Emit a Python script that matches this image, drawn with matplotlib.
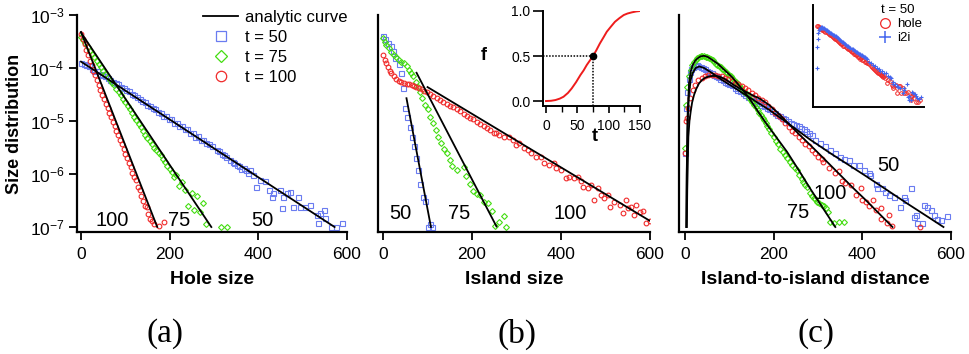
import numpy as np
import matplotlib
matplotlib.use('Agg')
import matplotlib.pyplot as plt
from matplotlib.ticker import NullLocator, FixedLocator

plt.rcParams['font.family'] = ['Liberation Sans', 'DejaVu Sans']
plt.rcParams['mathtext.fontset'] = 'custom'
plt.rcParams['mathtext.rm'] = 'Liberation Sans'
plt.rcParams['mathtext.it'] = 'Liberation Sans'
plt.rcParams['mathtext.default'] = 'regular'

# ---- data: (x, log10 of size distribution) ----
# (a) hole size
hole50 = [(0, -3.90), (6, -3.92), (12, -3.95), (18, -3.97), (24, -4.01), (30, -4.05), (36, -4.06),
          (42, -4.12), (48, -4.13), (54, -4.16), (60, -4.19), (66, -4.22), (72, -4.26), (78, -4.28),
          (84, -4.31), (90, -4.36), (96, -4.38), (102, -4.42), (108, -4.44), (114, -4.49), (120, -4.50),
          (126, -4.55), (132, -4.58), (138, -4.62), (144, -4.64), (150, -4.70), (156, -4.71), (162, -4.76),
          (168, -4.78), (174, -4.83), (180, -4.84), (186, -4.90), (192, -4.91), (198, -4.97), (204, -4.97),
          (210, -5.03), (216, -5.04), (222, -5.10), (228, -5.09), (234, -5.16), (240, -5.15), (246, -5.23),
          (252, -5.22), (258, -5.30), (264, -5.29), (270, -5.36), (276, -5.35), (282, -5.42), (288, -5.43),
          (296, -5.47), (307, -5.55), (312, -5.57), (317, -5.62), (322, -5.64), (327, -5.68), (337, -5.74),
          (342, -5.77), (346, -5.80), (352, -5.83), (357, -5.85), (362, -5.90), (367, -5.89), (372, -5.93),
          (377, -5.98), (382, -5.92), (389, -6.02), (395, -6.24), (404, -6.11), (415, -6.14), (425, -6.30),
          (430, -6.43), (434, -6.36), (449, -6.30), (454, -6.65), (456, -6.43), (464, -6.36), (472, -6.33),
          (479, -6.62), (490, -6.43), (494, -6.62), (505, -6.62), (516, -6.58), (532, -6.77), (535, -6.92),
          (539, -6.74), (547, -6.68), (551, -6.83), (565, -7.0), (576, -7.0), (588, -6.92)]
hole75 = [(0, -3.42), (5, -3.47), (10, -3.53), (15, -3.60), (20, -3.67), (25, -3.74), (30, -3.80),
          (35, -3.86), (40, -3.93), (45, -3.99), (50, -4.05), (55, -4.11), (60, -4.17), (65, -4.22),
          (70, -4.28), (75, -4.33), (80, -4.39), (85, -4.45), (90, -4.51), (95, -4.58), (100, -4.65),
          (105, -4.71), (110, -4.77), (115, -4.84), (120, -4.92), (125, -4.98), (130, -5.05), (135, -5.11),
          (140, -5.19), (145, -5.26), (150, -5.32), (155, -5.38), (160, -5.44), (165, -5.50), (170, -5.55),
          (175, -5.60), (180, -5.65), (185, -5.72), (190, -5.78), (195, -5.85), (200, -5.90), (205, -5.96),
          (210, -6.05), (215, -6.02), (220, -6.22), (228, -6.15), (235, -6.30), (242, -6.60), (250, -6.35),
          (255, -6.68), (262, -6.42), (268, -6.72), (275, -6.55), (282, -6.95), (315, -7.0), (330, -7.0)]
hole100 = [(0, -3.35), (4, -3.45), (8, -3.55), (12, -3.66), (16, -3.76), (20, -3.86), (24, -3.95),
           (28, -4.05), (32, -4.14), (36, -4.23), (40, -4.32), (44, -4.41), (48, -4.50), (52, -4.59),
           (56, -4.67), (60, -4.76), (64, -4.85), (68, -4.93), (72, -5.02), (76, -5.10), (80, -5.19),
           (84, -5.27), (88, -5.36), (92, -5.44), (96, -5.53), (100, -5.62), (104, -5.70), (108, -5.80),
           (112, -5.86), (116, -5.98), (120, -6.05), (124, -6.12), (128, -6.25), (132, -6.30), (136, -6.42),
           (140, -6.50), (144, -6.60), (148, -6.62), (152, -6.75), (156, -6.85), (160, -6.88), (164, -6.95),
           (176, -6.99), (188, -6.91)]
fit_hole50 = [(0, -3.88), (572, -7.0)]
fit_hole75 = [(0, -3.33), (294, -7.0)]
fit_hole100 = [(0, -3.32), (172, -7.0)]

# (b) island size
island50 = [(1, -3.40), (5, -3.46), (11, -3.52), (17, -3.58), (23, -3.67), (28, -3.82), (35, -3.92),
            (40, -4.09), (45, -4.37), (49, -4.76), (54, -4.92), (60, -5.11), (64, -5.30), (70, -5.48),
            (75, -5.70), (79, -5.92), (84, -6.18), (89, -6.43), (94, -6.50), (100, -7.0), (105, -6.94),
            (109, -7.0)]
island75 = [(0, -3.44), (4, -3.50), (7.5, -3.57), (13, -3.63), (19, -3.69), (25, -3.75), (30, -3.80),
            (35, -3.84), (41, -3.88), (47.5, -3.91), (53, -3.96), (58, -4.03), (62.5, -4.09), (68, -4.15),
            (73, -4.26), (78, -4.35), (83, -4.45), (88, -4.57), (94, -4.70), (100, -4.78), (105.5, -4.92),
            (113, -5.04), (118, -5.17), (124, -5.30), (130, -5.42), (138, -5.52), (143, -5.61), (151, -5.74),
            (156, -5.85), (166, -5.92), (181, -5.86), (186, -6.04), (196, -6.18), (203, -6.32), (211, -6.37),
            (218.5, -6.40), (228, -6.52), (237, -6.54), (245, -6.69), (252, -6.99), (261, -6.90),
            (272, -6.79), (276, -7.0)]
island100 = [(0, -3.75), (4, -3.84), (7.5, -3.91), (11, -3.99), (15, -4.05), (19, -4.10), (25, -4.16),
             (30, -4.21), (35, -4.25), (41, -4.27), (47.5, -4.29), (53, -4.30), (58, -4.31), (64, -4.32),
             (70, -4.34), (75, -4.35), (81, -4.38), (87, -4.40), (93, -4.43), (98, -4.46), (105.5, -4.49),
             (113, -4.53), (120.5, -4.57), (128, -4.60), (135.6, -4.64), (143, -4.68), (151, -4.72),
             (158, -4.74), (166, -4.78), (173, -4.82), (181, -4.86), (188, -4.91), (196, -4.94),
             (203, -4.96), (211, -5.01), (218.5, -5.06), (226, -5.09), (233.5, -5.14), (241, -5.17),
             (248.6, -5.22), (253, -5.23), (260.6, -5.26), (272, -5.30), (283, -5.31), (293, -5.35),
             (298.5, -5.45), (306, -5.42), (317, -5.51), (325, -5.55), (332, -5.61), (343.5, -5.67),
             (354.7, -5.68), (362, -5.80), (373.7, -5.83), (385, -5.80), (388.5, -5.89), (399.8, -5.92),
             (411, -6.08), (418.6, -6.05), (430, -6.08), (439, -6.05), (445, -6.14), (448.7, -6.24),
             (460, -6.27), (467.5, -6.21), (475, -6.49), (482.6, -6.27), (490, -6.40), (497.7, -6.46),
             (505, -6.40), (509, -6.62), (520, -6.53), (531.6, -6.59), (539, -6.74), (546.6, -6.49),
             (550.4, -6.65), (558, -6.62), (564, -6.78), (569.4, -6.59), (577, -6.72), (584.5, -6.69),
             (592, -6.93), (599.5, -6.88)]
fit_island50 = [(52.7, -4.57), (107.7, -7.0)]
fit_island75 = [(75.3, -4.09), (255, -6.99)]
fit_island100 = [(100, -4.36), (603, -6.90)]

# (c) island-to-island distance
i2i50 = [(0, -5.60), (2, -4.76), (5, -4.45), (8, -4.20), (11, -4.08), (14, -4.02), (18, -3.98),
         (22, -3.96), (26, -3.95), (30, -3.97), (35, -3.98), (40, -4.00), (45, -4.02), (50, -4.05),
         (55, -4.07), (60, -4.10), (65, -4.13), (70, -4.15), (75, -4.17), (80, -4.20), (85, -4.23),
         (90, -4.26), (95, -4.28), (100, -4.30), (106, -4.33), (112, -4.37), (118, -4.41), (124, -4.44),
         (130, -4.47), (136, -4.50), (142, -4.54), (148, -4.57), (154, -4.60), (160, -4.63), (166, -4.66),
         (172, -4.70), (178, -4.72), (184, -4.76), (190, -4.78), (196, -4.82), (202, -4.85), (208, -4.88),
         (214, -4.91), (220, -4.95), (226, -4.97), (232, -5.00), (238, -5.03), (244, -5.05), (250, -5.08),
         (256, -5.10), (262, -5.13), (268, -5.15), (274, -5.18), (280, -5.22), (286, -5.26),
         (294, -5.35), (305, -5.42), (316, -5.48), (328, -5.55), (339, -5.61), (350, -5.67), (358, -5.72),
         (369, -5.74), (380, -5.83), (392, -5.83), (403, -5.92), (414, -5.99), (418, -6.02), (430, -6.18),
         (434, -6.27), (445, -6.27), (452, -6.33), (460, -6.40), (471, -6.43), (486, -6.62), (494, -6.43),
         (497, -6.49), (509, -6.27), (516, -6.81), (522, -6.77), (524, -6.93), (535, -6.92), (538, -6.58),
         (546, -6.62), (554, -6.68), (561, -6.77), (569, -6.84), (577, -6.87), (590, -6.79)]
i2i75 = [(0, -5.50), (1.5, -4.70), (5, -4.35), (9, -4.15), (13, -4.04), (16.5, -3.95), (20, -3.88),
         (24, -3.84), (28, -3.81), (32, -3.79), (35.5, -3.78), (39, -3.77), (43, -3.78), (47, -3.79),
         (50.5, -3.80), (54, -3.82), (58, -3.83), (62, -3.85), (66, -3.89), (70, -3.92), (73, -3.94),
         (77, -3.96), (80.6, -3.98), (84.4, -4.01), (88, -4.04), (92, -4.07), (95.7, -4.10), (99.5, -4.13),
         (103, -4.16), (107, -4.19), (111, -4.23), (114.5, -4.26), (118.3, -4.29), (122, -4.33),
         (126, -4.38), (129.6, -4.42), (133, -4.45), (137, -4.48), (141, -4.51), (145, -4.56),
         (148.5, -4.60), (152, -4.64), (156, -4.69), (160, -4.74), (163.5, -4.79), (167, -4.84),
         (171, -4.88), (175, -4.94), (178, -4.99), (182, -5.04), (186, -5.09), (190, -5.15), (195, -5.22),
         (200, -5.30), (205, -5.38), (210, -5.44), (215, -5.52), (220, -5.58), (225, -5.64), (230, -5.70),
         (236, -5.77), (241, -5.83), (247, -5.88), (252, -5.92), (258, -6.02), (263, -6.10), (267, -6.16),
         (271, -6.20), (275, -6.24), (282, -6.35), (286, -6.42), (290, -6.46), (294, -6.48), (297.5, -6.52),
         (303, -6.55), (309, -6.58), (313, -6.61), (318.6, -6.65), (323, -6.72), (327.7, -6.90),
         (335, -6.92), (346.5, -6.90), (357.8, -6.90)]
i2i100 = [(0, -5.61), (1.5, -5.00), (3.8, -4.95), (7.5, -4.76), (11.3, -4.57), (17.3, -4.42), (22.6, -4.32),
          (30.1, -4.23), (37.7, -4.18), (45.2, -4.15), (52.7, -4.13), (60.3, -4.13), (67.8, -4.14),
          (75.3, -4.15), (82.9, -4.16), (90.4, -4.18), (98, -4.21), (105.5, -4.25), (113, -4.28),
          (120.5, -4.31), (128, -4.34), (135.6, -4.37), (143, -4.42), (150.7, -4.47), (158, -4.51),
          (165.7, -4.56), (173.3, -4.60), (180.8, -4.65), (188, -4.72), (195.9, -4.78), (203.4, -4.84),
          (211, -4.91), (218.5, -4.97), (226, -5.04), (233.5, -5.11), (241, -5.18), (248.6, -5.23),
          (256, -5.30), (263.7, -5.36), (271, -5.43), (278.7, -5.48), (286, -5.55), (293.8, -5.61),
          (301, -5.67), (309, -5.71), (312, -5.77), (324, -5.89), (339, -5.99), (347, -5.95), (354.7, -6.14),
          (362, -6.17), (373.6, -6.21), (385, -6.39), (396, -6.27), (400, -6.49), (408, -6.52),
          (415.6, -6.61), (423, -6.49), (431, -6.67), (441.7, -6.65), (441.7, -6.84), (455, -6.93),
          (460.6, -6.77), (468, -6.98), (531, -7.0)]
fit_i2i50 = [(3, -7.0), (4, -6.0), (6, -5.0), (9, -4.48), (13, -4.22), (17, -4.10), (24, -4.00), (32, -3.97),
             (43, -4.00), (62, -4.10), (84, -4.23), (107, -4.35), (137, -4.51), (167, -4.67), (190, -4.79),
             (230, -5.03), (282, -5.35), (330, -5.62), (373, -5.85), (410, -6.05), (448, -6.26),
             (500, -6.55), (550, -6.82), (583, -7.0)]
fit_i2i75 = [(3, -7.0), (4, -5.9), (6, -4.85), (9, -4.28), (13, -4.06), (17, -3.95), (23, -3.86), (28, -3.82),
             (35, -3.78), (43, -3.77), (51, -3.79), (62, -3.85), (74, -3.92), (84, -4.00), (96, -4.09),
             (107, -4.18), (122, -4.33), (137, -4.48), (152, -4.66), (167, -4.85), (186, -5.08), (208, -5.33),
             (230, -5.58), (256, -5.92), (282, -6.27), (310, -6.63), (339, -7.0)]
fit_i2i100 = [(4, -7.0), (5, -6.3), (7.5, -5.3), (10, -5.0), (12.8, -4.82), (16, -4.65), (20.3, -4.51),
              (25, -4.40), (31.6, -4.29), (39, -4.22), (46.7, -4.18), (54, -4.16), (61.8, -4.15), (69, -4.15),
              (76.8, -4.16), (88, -4.20), (99.4, -4.26), (110, -4.32), (122, -4.38), (133, -4.43),
              (144.6, -4.48), (156, -4.53), (167, -4.57), (178, -4.63), (190, -4.70), (210, -4.85),
              (230, -5.02), (256, -5.24), (282, -5.45), (305, -5.64), (330, -5.85), (355, -6.06),
              (380, -6.27), (405, -6.47), (430, -6.68), (468, -7.0)]

# inset (b): coverage f(t)
t_vals = [0, 8, 15, 22, 28, 35, 41, 48, 55, 60, 65, 70, 75, 80, 86, 92, 97, 104, 110, 117, 124, 130, 137, 144, 150]
f_vals = [0.0, 0.003, 0.011, 0.027, 0.048, 0.09, 0.14, 0.21, 0.29, 0.34, 0.40, 0.45, 0.50, 0.56, 0.64,
          0.71, 0.77, 0.83, 0.88, 0.92, 0.955, 0.972, 0.985, 0.995, 1.0]
t_half, f_half = 75, 0.5

# curve labels: (text, x, log10 y)
labels_a = [('100', 70, -6.87), ('75', 221, -6.87), ('50', 409, -6.87)]
labels_b = [('50', 38, -6.74), ('75', 172, -6.74), ('100', 421, -6.74)]
labels_c = [('50', 459, -5.83), ('100', 328, -6.36), ('75', 255, -6.72)]

BLUE = '#6a7cf0'
GREEN = '#44dd11'
RED = '#f02a2a'
PLUS = '#4466ee'

W, H = 969, 354


def box(l, t, r, b):
    return [l / W, 1 - b / H, (r - l) / W, (b - t) / H]


def xy(pairs):
    a = np.array(pairs, dtype=float)
    return a[:, 0], 10 ** a[:, 1]


def setup(ax, xmin, xlabel):
    ax.set_yscale('log')
    ax.set_xlim(xmin, 600)
    ax.set_ylim(10 ** -7.094, 1e-3)
    for s in ['top', 'right']:
        ax.spines[s].set_visible(False)
    for s in ['left', 'bottom']:
        ax.spines[s].set_linewidth(1.6)
    ax.set_xticks([0, 200, 400, 600])
    ax.tick_params(axis='x', direction='out', length=6, width=1.3, labelsize=12.5, pad=5)
    ax.set_xlabel(xlabel, fontsize=14, fontweight='bold', labelpad=6)
    ax.patch.set_alpha(0)


def draw(ax, series, fits, labels):
    for pairs, mk, col, ms in series:
        x, y = xy(pairs)
        ax.plot(x, y, mk, mfc='none', mec=col, ms=ms, mew=0.8, ls='none', zorder=2)
    lines = []
    for pairs in fits:
        x, y = xy(pairs)
        lines += ax.plot(x, y, 'k-', lw=1.3, zorder=3)
    for txt, x, lg in labels:
        ax.text(x, 10 ** lg, txt, ha='center', va='center', fontsize=14.5, zorder=4)
    return lines


fig = plt.figure(figsize=(9.69, 3.54), dpi=100)

# (a)
axa = fig.add_axes(box(77, 15, 347, 232))
setup(axa, -9, 'Hole size')
axa.set_yticks([1e-7, 1e-6, 1e-5, 1e-4, 1e-3])
axa.yaxis.set_minor_locator(NullLocator())
axa.tick_params(axis='y', direction='out', length=6, width=1.3, labelsize=12.5, pad=3)
axa.set_ylabel('Size distribution', fontsize=13, fontweight='bold', labelpad=5)
fl = draw(axa, [(hole50, 's', BLUE, 3.6), (hole75, 'D', GREEN, 3.0), (hole100, 'o', RED, 3.4)],
          [fit_hole50, fit_hole75, fit_hole100], labels_a)
h50 = plt.Line2D([], [], marker='s', mfc='none', mec=BLUE, ms=7.5, mew=0.9, ls='none')
h75 = plt.Line2D([], [], marker='D', mfc='none', mec=GREEN, ms=6.5, mew=0.9, ls='none')
h100 = plt.Line2D([], [], marker='o', mfc='none', mec=RED, ms=7.5, mew=0.9, ls='none')
axa.legend([fl[0], h50, h75, h100], ['analytic curve', 't = 50', 't = 75', 't = 100'],
           loc='upper left', bbox_to_anchor=(203 / W, 1 - 10 / H), bbox_transform=fig.transFigure,
           frameon=False, fontsize=12, handlelength=2.1, handletextpad=0.4, labelspacing=0.3,
           borderpad=0, borderaxespad=0)

# (b)
axb = fig.add_axes(box(378, 15, 650, 232))
setup(axb, -11.3, 'Island size')
axb.set_yticks([])
axb.yaxis.set_minor_locator(NullLocator())
draw(axb, [(island50, 's', BLUE, 3.6), (island75, 'D', GREEN, 3.0), (island100, 'o', RED, 3.4)],
     [fit_island50, fit_island75, fit_island100], labels_b)

# (c)
axc = fig.add_axes(box(679, 15, 951, 232))
setup(axc, -13.6, 'Island-to-island distance')
axc.set_yticks([])
axc.yaxis.set_minor_locator(NullLocator())
draw(axc, [(i2i50, 's', BLUE, 3.6), (i2i75, 'D', GREEN, 3.0), (i2i100, 'o', RED, 3.4)],
     [fit_i2i50, fit_i2i75, fit_i2i100], labels_c)

# inset (b): f(t)
axi = fig.add_axes(box(543, 11, 640, 106))
axi.patch.set_alpha(0)
axi.set_xlim(-4.8, 150)
axi.set_ylim(-0.055, 1.0)
for s in ['top', 'right']:
    axi.spines[s].set_visible(False)
for s in ['left', 'bottom']:
    axi.spines[s].set_linewidth(1.4)
axi.plot(t_vals, f_vals, color='#ee1c1c', lw=1.4)
axi.plot([-4.8, t_half], [f_half, f_half], color='k', ls=(0, (1, 1)), lw=1.1)
axi.plot([t_half, t_half], [-0.055, f_half], color='k', ls=(0, (1, 1)), lw=1.1)
axi.plot([t_half], [f_half], 'ko', ms=4.5)
axi.set_yticks([0, 0.5, 1.0])
axi.set_yticklabels(['0.0', '0.5', '1.0'])
axi.set_xticks([0, 50, 100, 150])
axi.xaxis.set_minor_locator(FixedLocator([25, 75, 125]))
axi.tick_params(axis='y', direction='out', length=7, width=1.2, labelsize=10, pad=2)
axi.tick_params(axis='x', which='major', direction='out', length=5, width=1.2, labelsize=10, pad=4)
axi.tick_params(axis='x', which='minor', direction='out', length=4, width=1.0)
fig.text(484 / W, 1 - 55 / H, 'f', fontsize=13, fontweight='bold', ha='center', va='center')
fig.text(595 / W, 1 - 137 / H, 't', fontsize=13, fontweight='bold', ha='center', va='center')

# inset (c): hole vs i2i at t = 50
axn = fig.add_axes(box(813, 5, 924, 107))
axn.set_yscale('log')
axn.set_xlim(-23, 608)
axn.set_ylim(10 ** -7.2, 10 ** -3.05)
for s in ['top', 'right']:
    axn.spines[s].set_visible(False)
for s in ['left', 'bottom']:
    axn.spines[s].set_linewidth(1.4)
axn.set_xticks([])
axn.set_yticks([])
axn.yaxis.set_minor_locator(NullLocator())
x, y = xy(hole50)
hh = axn.plot(x, y, 'o', mfc='none', mec=RED, ms=2.6, mew=0.7, ls='none')[0]
x, y = xy(i2i50)
hi = axn.plot(x, y, '+', color=PLUS, mec=PLUS, ms=3.4, mew=0.8, ls='none')[0]
h_hole = plt.Line2D([], [], marker='o', mfc='none', mec=RED, ms=7, mew=0.9, ls='none')
h_i2i = plt.Line2D([], [], marker='+', color=PLUS, mec=PLUS, ms=8, mew=1.1, ls='none')
leg = axn.legend([h_hole, h_i2i], ['hole', 'i2i'], title='t = 50', alignment='left',
                 loc='upper left', bbox_to_anchor=(881 / W, 1 - 4 / H), bbox_transform=fig.transFigure,
                 frameon=False, fontsize=9.5, title_fontsize=9.5,
                 handlelength=0.6, handletextpad=0.6, labelspacing=0.15, borderpad=0, borderaxespad=0)

# panel letters
for lab, cx in [('(a)', 165), ('(b)', 517), ('(c)', 816)]:
    fig.text(cx / W, 1 - 334 / H, lab, fontsize=24, family='Liberation Serif', ha='center', va='center')

fig.savefig('out.png', dpi=100)
